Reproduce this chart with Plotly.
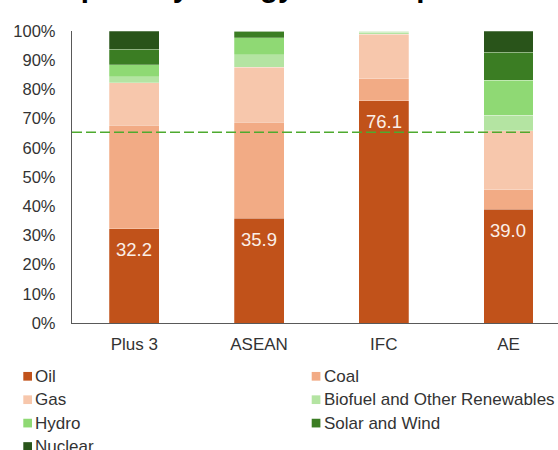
import plotly.graph_objects as go

# Regions and primary energy mix (% of total primary energy consumption)
regions = ["Plus 3", "ASEAN", "IFC", "AE"]
series_names = ["Oil", "Coal", "Gas", "Biofuel and Other Renewables",
                "Hydro", "Solar and Wind", "Nuclear"]
oil = [32.2, 35.9, 76.1, 39.0]
coal = [35.6, 32.9, 7.5, 6.7]
gas = [14.4, 18.8, 15.3, 20.2]
biofuel = [2.2, 4.3, 0.6, 5.3]
hydro = [4.1, 5.8, 0.5, 11.9]
solar_wind = [5.3, 2.3, 0.0, 9.6]
nuclear = [6.2, 0.0, 0.0, 7.3]
fossil_benchmark = 65.3

y_ticks = list(range(0, 101, 10))
y_tick_labels = [f"{v}%" for v in y_ticks]
title_text = "Share of primary energy consumption"

series_values = [oil, coal, gas, biofuel, hydro, solar_wind, nuclear]
colors = ["#C1521A", "#F2AB85", "#F7C7AC", "#B4E4A2",
          "#8FD974", "#3B7D23", "#29541A"]

# Plot area geometry (pixels)
W, H = 558, 450
M_L, M_R, M_T, M_B = 72, 0, 31, 127
PW = W - M_L - M_R
PH = H - M_T - M_B


def px_x(px):
    return (px - M_L) / PW


def px_y(py):
    return (H - M_B - py) / PH


fig = go.Figure()
for name, vals, col in zip(series_names, series_values, colors):
    fig.add_trace(go.Bar(
        x=regions, y=vals, name=name,
        marker=dict(color=col, line=dict(color="rgba(255,255,255,0.5)", width=0.5)),
        showlegend=False, hoverinfo="x+y+name",
    ))

# Oil share labels inside the top of the oil segment
annotations = []
for r, v in zip(regions, oil):
    annotations.append(dict(
        x=r, y=v, xref="x", yref="y", text=f"{v:.1f}", showarrow=False,
        yanchor="middle", yshift=-21,
        font=dict(family="Arial, Liberation Sans", size=18.5, color="#FBEFE8"),
    ))

# Title, sitting mostly above the visible page
annotations.append(dict(
    x=px_x(-48), y=px_y(5), xref="paper", yref="paper", xanchor="left",
    yanchor="bottom", showarrow=False, text=f"<b>{title_text}</b>",
    font=dict(family="Arial, Liberation Sans", size=29.6, color="#000000"),
))

# Two-column legend below the chart
shapes = []
col_marker_x = [23.3, 311.7]
col_text_x = [33, 322]
row_y0 = 376.3
row_step = 23.4
msize = 8.7
for i, (name, col) in enumerate(zip(series_names, colors)):
    c, r = i % 2, i // 2
    cy = row_y0 + r * row_step
    mx = col_marker_x[c]
    shapes.append(dict(
        type="rect", xref="paper", yref="paper",
        x0=px_x(mx), x1=px_x(mx + msize),
        y0=px_y(cy - msize / 2), y1=px_y(cy + msize / 2),
        fillcolor=col, line=dict(width=0), layer="above",
    ))
    annotations.append(dict(
        x=px_x(col_text_x[c]), y=px_y(cy), xref="paper", yref="paper",
        xanchor="left", yanchor="middle", showarrow=False, text=name,
        font=dict(family="Arial, Liberation Sans", size=17, color="#333333"),
    ))

# Dashed benchmark line across the bars
shapes.append(dict(
    type="line", xref="x", yref="y", x0=-0.5, x1=3.2,
    y0=fossil_benchmark, y1=fossil_benchmark,
    line=dict(color="#4EAA2E", width=1.5, dash="10px,4px"), layer="above",
))

fig.update_layout(
    width=W, height=H,
    margin=dict(l=M_L, r=M_R, t=M_T, b=M_B, pad=0),
    paper_bgcolor="white", plot_bgcolor="white",
    barmode="stack", bargap=0.6,
    font=dict(family="Arial, Liberation Sans", size=17, color="#333333"),
    shapes=shapes, annotations=annotations,
    xaxis=dict(
        range=[-0.5, 3.397], showgrid=False, showline=True,
        linecolor="#595959", linewidth=1.3, ticks="",
        ticklabelstandoff=5, tickfont=dict(size=17, color="#333333"),
    ),
    yaxis=dict(
        range=[0, 100], tickmode="array", tickvals=y_ticks,
        ticktext=y_tick_labels,
        showgrid=False, showline=True, zeroline=False,
        linecolor="#595959", linewidth=1.3, ticks="",
        ticklabelstandoff=12, tickfont=dict(size=16.5, color="#333333"),
    ),
)

fig.write_html("out.html")
